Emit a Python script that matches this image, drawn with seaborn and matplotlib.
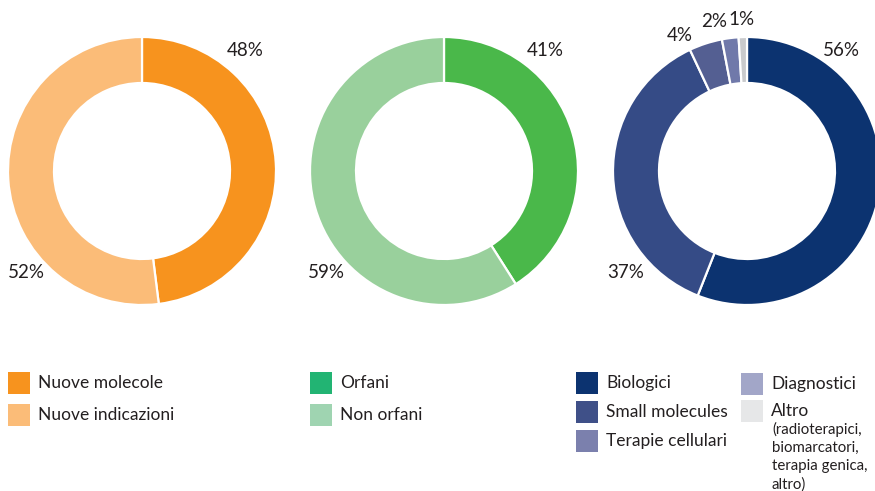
import matplotlib
matplotlib.use("Agg")
import matplotlib.pyplot as plt
from matplotlib.patches import Rectangle
import seaborn as sns

# Donut 1: tipo di approvazione
tipo_labels = ["Nuove molecole", "Nuove indicazioni"]
tipo_values = [48, 52]
tipo_colors = ["#f7931e", "#fbbc78"]
tipo_legend_colors = ["#f7931e", "#fbbc78"]

# Donut 2: designazione orfana
orfani_labels = ["Orfani", "Non orfani"]
orfani_values = [41, 59]
orfani_colors = ["#4ab84a", "#99d09c"]
orfani_legend_colors = ["#22b473", "#9fd4b1"]

# Donut 3: tipologia di prodotto
tecno_labels = ["Biologici", "Small molecules", "Terapie cellulari", "Diagnostici", "Altro"]
tecno_values = [56, 37, 4, 2, 1]
tecno_colors = ["#0c3370", "#354b86", "#545f92", "#7079aa", "#c9cacc"]
tecno_legend_colors = ["#0c3370", "#3f5088", "#7b80ad", "#a2a6c8", "#e6e7e8"]
altro_note = ["(radioterapici,", "biomarcatori,", "terapia genica,", "altro)"]

sns.set_theme(style="white")
plt.rcParams["font.family"] = ["Lato", "DejaVu Sans"]

W, H = 875, 491
fig = plt.figure(figsize=(W / 100, H / 100), dpi=100)
ax = fig.add_axes([0, 0, 1, 1])
TXT = "#231f20"


def Y(y):
    return H - y


R_OUT, R_W = 134, 46
CY = 171


def donut(cx, values, colors):
    ax.pie(values, colors=colors, startangle=90, counterclock=False,
           center=(cx, Y(CY)), radius=R_OUT,
           wedgeprops=dict(width=R_W, edgecolor="white", linewidth=1.6))


donut(142, tipo_values, tipo_colors)
donut(444, orfani_values, orfani_colors)
donut(747, tecno_values, tecno_colors)

ax.set_xlim(0, W)
ax.set_ylim(0, H)
ax.set_aspect("auto")
ax.axis("off")

PCT = 13.5
# percentuali
ax.text(245, Y(50), f"{tipo_values[0]}%", fontsize=PCT, color=TXT, ha="center", va="center")
ax.text(26, Y(273), f"{tipo_values[1]}%", fontsize=PCT, color=TXT, ha="center", va="center")
ax.text(545, Y(50), f"{orfani_values[0]}%", fontsize=PCT, color=TXT, ha="center", va="center")
ax.text(326, Y(273), f"{orfani_values[1]}%", fontsize=PCT, color=TXT, ha="center", va="center")
ax.text(841, Y(50), f"{tecno_values[0]}%", fontsize=PCT, color=TXT, ha="center", va="center")
ax.text(626, Y(273), f"{tecno_values[1]}%", fontsize=PCT, color=TXT, ha="center", va="center")
ax.text(680, Y(35), f"{tecno_values[2]}%", fontsize=PCT, color=TXT, ha="center", va="center")
ax.text(714, Y(21), f"{tecno_values[3]}%", fontsize=PCT, color=TXT, ha="center", va="center")
ax.text(742, Y(19), f"{tecno_values[4]}%", fontsize=PCT, color=TXT, ha="center", va="center")

LEG = 12.5
SQ = 22


def legend_item(x, y, color, label):
    ax.add_patch(Rectangle((x, Y(y) - SQ / 2), SQ, SQ, facecolor=color,
                           edgecolor="none"))
    ax.text(x + SQ + 8, Y(y), label, fontsize=LEG, color=TXT,
            ha="left", va="center")


for lab, col, yy in zip(tipo_labels, tipo_legend_colors, [383, 415]):
    legend_item(8, yy, col, lab)
for lab, col, yy in zip(orfani_labels, orfani_legend_colors, [383, 415]):
    legend_item(310, yy, col, lab)
for lab, col, yy in zip(tecno_labels[:3], tecno_legend_colors[:3], [383, 412, 441]):
    legend_item(576, yy, col, lab)
for lab, col, yy in zip(tecno_labels[3:], tecno_legend_colors[3:], [384, 411]):
    legend_item(741, yy, col, lab)

for i, line in enumerate(altro_note):
    ax.text(772, Y(429 + i * 18.5), line, fontsize=10.8, color=TXT,
            ha="left", va="center")

fig.savefig("out.png", dpi=100, facecolor="white")
